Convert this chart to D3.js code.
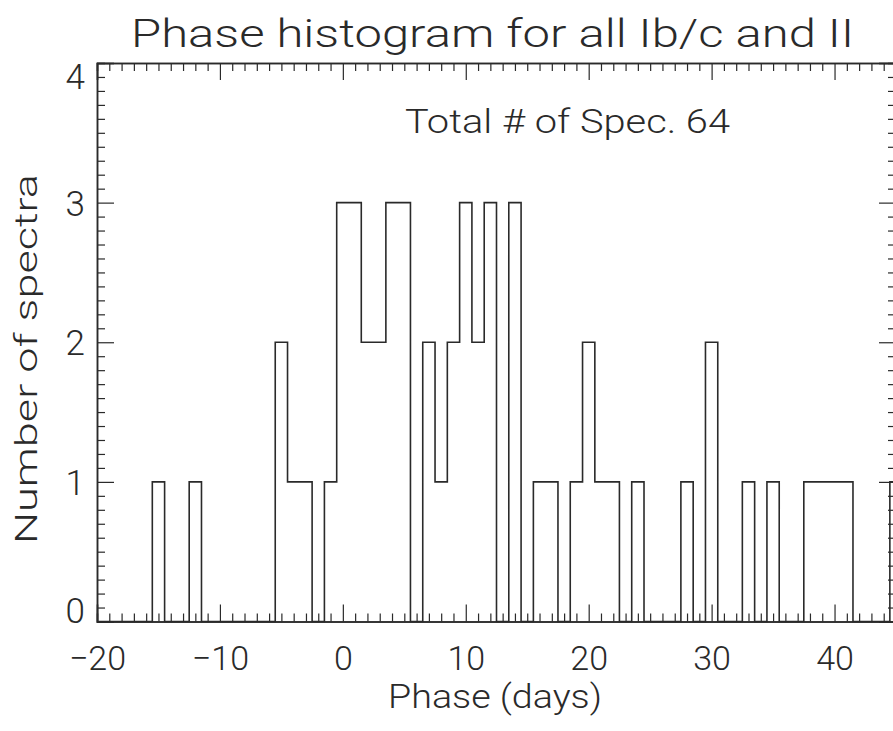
<!DOCTYPE html>
<html>
<head>
<meta charset="utf-8">
<script src="https://cdn.jsdelivr.net/npm/d3@7"></script>
<style>
  html, body { margin: 0; padding: 0; background: #fff; overflow: hidden; }
  svg { display: block; }
  text { font-family: "Roboto", "DejaVu Sans", sans-serif; font-weight: 300; fill: #2a2a2a; }
</style>
</head>
<body>
<script>
// ---- Data ----
const phaseBins = [-20, -19, -18, -17, -16, -15, -14, -13, -12, -11, -10, -9, -8, -7, -6, -5, -4, -3, -2, -1,
  0, 1, 2, 3, 4, 5, 6, 7, 8, 9, 10, 11, 12, 13, 14, 15, 16, 17, 18, 19,
  20, 21, 22, 23, 24, 25, 26, 27, 28, 29, 30, 31, 32, 33, 34, 35, 36, 37, 38, 39,
  40, 41, 42, 43, 44, 45];
const counts = [0, 0, 0, 0, 0, 1, 0, 0, 1, 0, 0, 0, 0, 0, 0, 2, 1, 1, 0, 1,
  3, 3, 2, 2, 3, 3, 0, 2, 1, 2, 3, 2, 3, 0, 3, 0, 1, 1, 0, 1,
  2, 1, 1, 0, 1, 0, 0, 0, 1, 0, 2, 0, 0, 1, 0, 1, 0, 0, 1, 1,
  1, 1, 0, 0, 0, 1];
const xTickValues = [-20, -10, 0, 10, 20, 30, 40];
const yTickValues = [0, 1, 2, 3, 4];
const titleText = "Phase histogram for all Ib/c and II";
const xLabel = "Phase (days)";
const yLabel = "Number of spectra";
const annotation = "Total # of Spec. 64";

// ---- Layout ----
const W = 893, H = 731;
const pLeft = 97, pRight = 896, pTop = 63, pBottom = 621.5;
const x = d3.scaleLinear().domain([-20, 45]).range([pLeft, pRight]);
const y = d3.scaleLinear().domain([0, 4]).range([pBottom, pTop]);
const ink = "#2a2a2a";

const svg = d3.select("body").append("svg").attr("width", W).attr("height", H);

svg.append("clipPath").attr("id", "plotclip")
  .append("rect").attr("x", pLeft).attr("y", pTop - 2).attr("width", pRight - pLeft).attr("height", pBottom - pTop + 4);

// ---- Histogram (steps centred on each bin) ----
const steps = [];
phaseBins.forEach((p, i) => {
  steps.push([p - 0.5, counts[i]]);
  steps.push([p + 0.5, counts[i]]);
});
const line = d3.line().x(d => x(d[0])).y(d => y(d[1]));
svg.append("path")
  .attr("clip-path", "url(#plotclip)")
  .attr("d", line(steps))
  .attr("fill", "none")
  .attr("stroke", ink)
  .attr("stroke-width", 1.6);

// ---- Axes (IDL style box, inward ticks) ----
const majorLen = 17, minorLen = 8;
const xMinor = d3.range(-20, 46, 1).filter(v => v % 10 !== 0);
const yMinor = d3.range(0, 40, 1).map(v => v / 10).filter(v => Math.abs(v - Math.round(v)) > 1e-9);

function addAxis(axisGen, tx, ty) {
  const g = svg.append("g").attr("transform", `translate(${tx},${ty})`).call(axisGen);
  g.select(".domain").attr("stroke", ink).attr("stroke-width", 1.5);
  g.selectAll(".tick line").attr("stroke", ink).attr("stroke-width", 1.2);
  return g;
}
// minor ticks
addAxis(d3.axisBottom(x).tickValues(xMinor).tickSize(-minorLen).tickFormat(""), 0, pBottom);
addAxis(d3.axisTop(x).tickValues(xMinor).tickSize(-minorLen).tickFormat(""), 0, pTop);
addAxis(d3.axisLeft(y).tickValues(yMinor).tickSize(-minorLen).tickFormat(""), pLeft, 0);
addAxis(d3.axisRight(y).tickValues(yMinor).tickSize(-minorLen).tickFormat(""), pRight, 0);
// major ticks
const xb = addAxis(d3.axisBottom(x).tickValues(xTickValues).tickSize(-majorLen).tickPadding(24).tickFormat(d => d < 0 ? "\u2212" + Math.abs(d) : d), 0, pBottom);
addAxis(d3.axisTop(x).tickValues(xTickValues).tickSize(-majorLen).tickFormat(""), 0, pTop);
const yl = addAxis(d3.axisLeft(y).tickValues(yTickValues).tickSize(-majorLen).tickPadding(12).tickFormat(d3.format("d")), pLeft, 0);
addAxis(d3.axisRight(y).tickValues(yTickValues).tickSize(-majorLen).tickFormat(""), pRight, 0);

xb.selectAll(".tick text")
  .attr("font-size", 34).attr("fill", ink)
  .attr("dy", "0.71em");
yl.selectAll(".tick text")
  .attr("font-size", 35).attr("fill", ink)
  .attr("dy", d => d === 4 ? "0.72em" : (d === 0 ? "0.02em" : "0.36em"));

// ---- Texts ----
svg.append("text")
  .attr("x", 492.5).attr("y", 47)
  .attr("text-anchor", "middle")
  .attr("font-size", 39)
  .attr("textLength", 723).attr("lengthAdjust", "spacingAndGlyphs")
  .text(titleText);

svg.append("text")
  .attr("x", 405).attr("y", 133)
  .attr("font-size", 34)
  .attr("textLength", 325).attr("lengthAdjust", "spacingAndGlyphs")
  .text(annotation);

svg.append("text")
  .attr("x", 495).attr("y", 708)
  .attr("text-anchor", "middle")
  .attr("font-size", 33)
  .attr("textLength", 214).attr("lengthAdjust", "spacingAndGlyphs")
  .text(xLabel);

svg.append("text")
  .attr("transform", "translate(37,359) rotate(-90)")
  .attr("text-anchor", "middle")
  .attr("font-size", 32)
  .attr("textLength", 370).attr("lengthAdjust", "spacingAndGlyphs")
  .text(yLabel);
</script>
</body>
</html>
